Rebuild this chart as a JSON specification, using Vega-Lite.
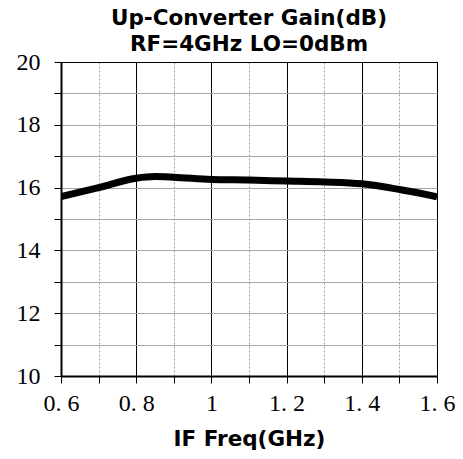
{
  "$schema": "https://vega.github.io/schema/vega-lite/v6.json",
  "width": 376,
  "height": 314,
  "autosize": {"type": "none"},
  "padding": {"left": 61, "top": 62, "right": 26, "bottom": 83},
  "background": "white",
  "config": {
    "view": {"stroke": "black", "strokeWidth": 1},
    "axis": {
      "labelFont": "Liberation Serif",
      "labelFontSize": 24,
      "labelColor": "black",
      "domainColor": "black",
      "domainWidth": 2,
      "tickColor": "black",
      "tickWidth": 1,
      "tickSize": 7,
      "titleFont": "DejaVu Sans",
      "titleFontWeight": "bold",
      "titleFontSize": 21.5,
      "titleColor": "black"
    }
  },
  "title": {
    "text": ["Up-Converter Gain(dB)", "RF=4GHz LO=0dBm"],
    "font": "DejaVu Sans",
    "fontWeight": "bold",
    "fontSize": 21.5,
    "color": "black",
    "anchor": "middle",
    "lineHeight": 26,
    "offset": -5
  },
  "data": {
    "values": [
      {"freq": 0.6, "gain": 15.71},
      {"freq": 0.7, "gain": 16.0},
      {"freq": 0.8, "gain": 16.3},
      {"freq": 0.85, "gain": 16.35},
      {"freq": 0.9, "gain": 16.33},
      {"freq": 1.0, "gain": 16.26},
      {"freq": 1.1, "gain": 16.24},
      {"freq": 1.2, "gain": 16.21},
      {"freq": 1.3, "gain": 16.18},
      {"freq": 1.4, "gain": 16.12},
      {"freq": 1.5, "gain": 15.94},
      {"freq": 1.6, "gain": 15.71}
    ]
  },
  "mark": {
    "type": "line",
    "color": "black",
    "strokeWidth": 7,
    "interpolate": "monotone",
    "strokeCap": "butt",
    "clip": true
  },
  "encoding": {
    "x": {
      "field": "freq",
      "type": "quantitative",
      "scale": {"domain": [0.6, 1.6], "nice": false, "zero": false},
      "axis": {
        "title": "IF Freq(GHz)",
        "titlePadding": 13,
        "values": [0.6, 0.7, 0.8, 0.9, 1.0, 1.1, 1.2, 1.3, 1.4, 1.5, 1.6],
        "labelExpr": "round(datum.value * 10) % 2 == 0 ? replace(format(datum.value, '~g'), '.', '. ') : ''",
        "labelPadding": 8,
        "labelFlush": false,
        "labelOverlap": false,
        "grid": true,
        "gridColor": {"condition": {"test": "round(datum.value * 10) % 2 == 0", "value": "black"}, "value": "#9a9a9a"},
        "gridDash": {"condition": {"test": "round(datum.value * 10) % 2 == 0", "value": []}, "value": [2, 2]},
        "gridWidth": 1
      }
    },
    "y": {
      "field": "gain",
      "type": "quantitative",
      "scale": {"domain": [10, 20], "nice": false, "zero": false},
      "axis": {
        "title": null,
        "values": [10, 11, 12, 13, 14, 15, 16, 17, 18, 19, 20],
        "labelExpr": "datum.value % 2 == 0 ? datum.label : ''",
        "labelPadding": 14,
        "labelFlush": false,
        "labelOverlap": false,
        "grid": true,
        "gridColor": {"condition": {"test": "datum.value == 20", "value": "black"}, "value": "#a8a8a8"},
        "gridWidth": 1
      }
    }
  }
}
